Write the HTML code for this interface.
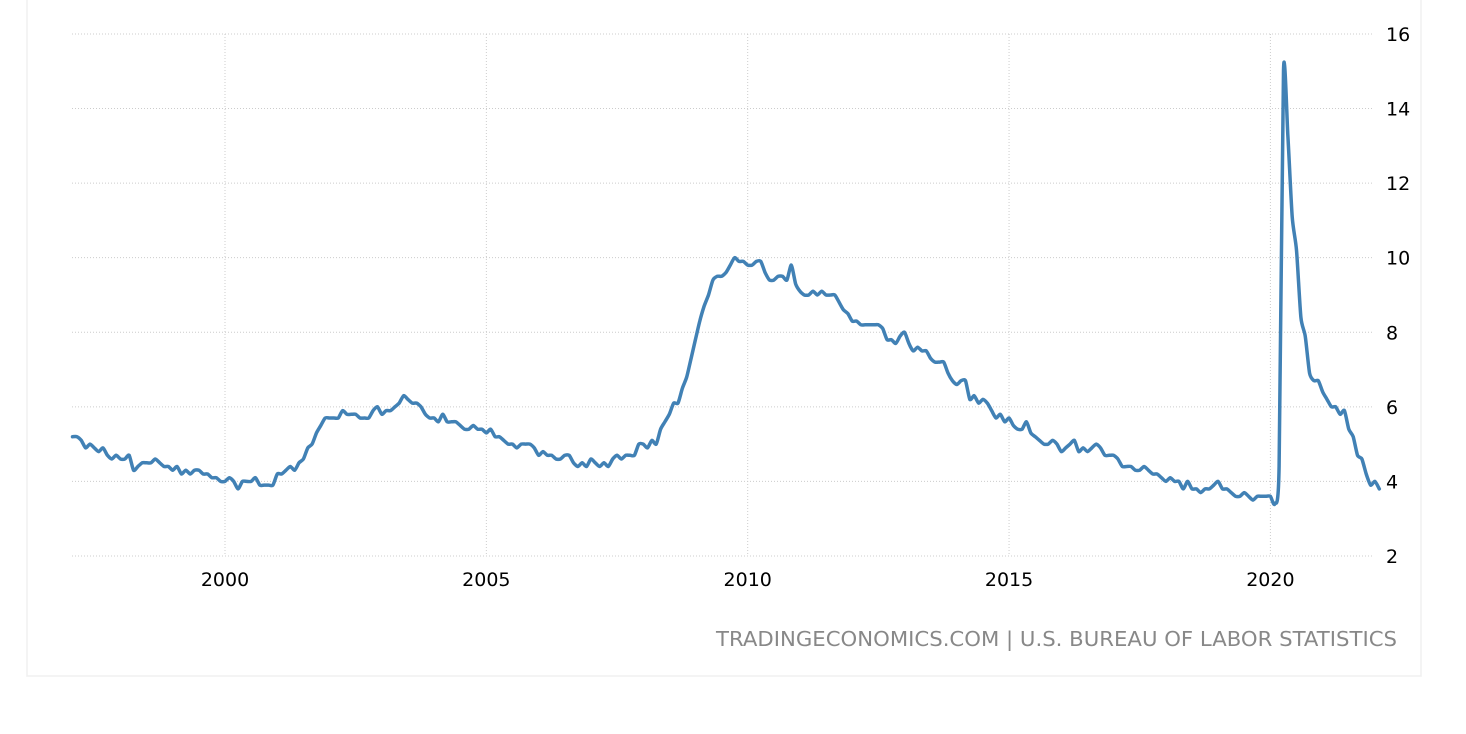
<!DOCTYPE html>
<html><head><meta charset="utf-8"><style>
body{margin:0;background:#fff;width:1466px;height:730px;overflow:hidden;font-family:"DejaVu Sans","Liberation Sans",sans-serif}
</style></head><body>
<svg width="1466" height="730" id="chart">
<path d="M27,0 V676 H1421 V0" fill="none" stroke="#f0f0f0" stroke-width="1.5"/>
<g id="grid"></g><g id="labels"></g>
<path id="line" fill="none" stroke="#4181b5" stroke-width="3.5" stroke-linejoin="round" stroke-linecap="round"/>
<text x="1397" y="646" text-anchor="end" font-size="20" fill="#888" textLength="681" lengthAdjust="spacingAndGlyphs">TRADINGECONOMICS.COM | U.S. BUREAU OF LABOR STATISTICS</text>
</svg>
<script>
const yTicks=[2,4,6,8,10,12,14,16];
const xTicks=[2000,2005,2010,2015,2020];
const startYear=1997;
const values=[
5.2,5.2,5.1,4.9,5.0,4.9,4.8,4.9,4.7,4.6,4.7,
4.6,4.6,4.7,4.3,4.4,4.5,4.5,4.5,4.6,4.5,4.4,4.4,
4.3,4.4,4.2,4.3,4.2,4.3,4.3,4.2,4.2,4.1,4.1,4.0,
4.0,4.1,4.0,3.8,4.0,4.0,4.0,4.1,3.9,3.9,3.9,3.9,
4.2,4.2,4.3,4.4,4.3,4.5,4.6,4.9,5.0,5.3,5.5,5.7,
5.7,5.7,5.7,5.9,5.8,5.8,5.8,5.7,5.7,5.7,5.9,6.0,
5.8,5.9,5.9,6.0,6.1,6.3,6.2,6.1,6.1,6.0,5.8,5.7,
5.7,5.6,5.8,5.6,5.6,5.6,5.5,5.4,5.4,5.5,5.4,5.4,
5.3,5.4,5.2,5.2,5.1,5.0,5.0,4.9,5.0,5.0,5.0,4.9,
4.7,4.8,4.7,4.7,4.6,4.6,4.7,4.7,4.5,4.4,4.5,4.4,
4.6,4.5,4.4,4.5,4.4,4.6,4.7,4.6,4.7,4.7,4.7,5.0,
5.0,4.9,5.1,5.0,5.4,5.6,5.8,6.1,6.1,6.5,6.8,7.3,
7.8,8.3,8.7,9.0,9.4,9.5,9.5,9.6,9.8,10.0,9.9,9.9,
9.8,9.8,9.9,9.9,9.6,9.4,9.4,9.5,9.5,9.4,9.8,9.3,
9.1,9.0,9.0,9.1,9.0,9.1,9.0,9.0,9.0,8.8,8.6,8.5,
8.3,8.3,8.2,8.2,8.2,8.2,8.2,8.1,7.8,7.8,7.7,7.9,
8.0,7.7,7.5,7.6,7.5,7.5,7.3,7.2,7.2,7.2,6.9,6.7,
6.6,6.7,6.7,6.2,6.3,6.1,6.2,6.1,5.9,5.7,5.8,5.6,
5.7,5.5,5.4,5.4,5.6,5.3,5.2,5.1,5.0,5.0,5.1,5.0,
4.8,4.9,5.0,5.1,4.8,4.9,4.8,4.9,5.0,4.9,4.7,4.7,
4.7,4.6,4.4,4.4,4.4,4.3,4.3,4.4,4.3,4.2,4.2,4.1,
4.0,4.1,4.0,4.0,3.8,4.0,3.8,3.8,3.7,3.8,3.8,3.9,
4.0,3.8,3.8,3.7,3.6,3.6,3.7,3.6,3.5,3.6,3.6,3.6,
3.6,3.4,4.4,15.0,13.3,11.1,10.2,8.4,7.9,6.9,6.7,6.7,
6.4,6.2,6.0,6.0,5.8,5.9,5.4,5.2,4.7,4.6,4.2,3.9,
4.0,3.8];
const xs=t=>225+(t-2000)*52.27;
const ys=v=>556-(v-2)*37.29;
const NS='http://www.w3.org/2000/svg';
const grid=document.getElementById('grid'),labels=document.getElementById('labels');
yTicks.forEach(v=>{
 const l=document.createElementNS(NS,'line');
 l.setAttribute('x1',72);l.setAttribute('x2',1372);l.setAttribute('y1',ys(v));l.setAttribute('y2',ys(v));
 l.setAttribute('stroke','#ccc');l.setAttribute('stroke-dasharray','1,2');
 
 
 grid.appendChild(l);
 const t=document.createElementNS(NS,'text');
 t.setAttribute('x',1386);t.setAttribute('y',ys(v)+7);t.setAttribute('font-size','19');t.setAttribute('fill','#000');
 t.textContent=v;
 
 
 labels.appendChild(t);
});
xTicks.forEach(y=>{
 const l=document.createElementNS(NS,'line');
 l.setAttribute('x1',xs(y));l.setAttribute('x2',xs(y));l.setAttribute('y1',34);l.setAttribute('y2',556);
 l.setAttribute('stroke','#ccc');l.setAttribute('stroke-dasharray','1,2');
 
 
 grid.appendChild(l);
 const t=document.createElementNS(NS,'text');
 t.setAttribute('x',xs(y));t.setAttribute('y',586);t.setAttribute('font-size','19');t.setAttribute('text-anchor','middle');
 t.textContent=y;
 
 
 labels.appendChild(t);
});
const pts=values.map((v,i)=>[xs(startYear+(i+1)/12),ys(v)]);
let d='M'+pts[0][0].toFixed(1)+','+pts[0][1].toFixed(1);
for(let i=0;i<pts.length-1;i++){
 const p0=pts[Math.max(0,i-1)],p1=pts[i],p2=pts[i+1],p3=pts[Math.min(pts.length-1,i+2)];
 const k=0.11;
 const c1=[p1[0]+(p2[0]-p0[0])*k,p1[1]+(p2[1]-p0[1])*k];
 const c2=[p2[0]-(p3[0]-p1[0])*k,p2[1]-(p3[1]-p1[1])*k];
 d+='C'+c1[0].toFixed(1)+','+c1[1].toFixed(1)+' '+c2[0].toFixed(1)+','+c2[1].toFixed(1)+' '+p2[0].toFixed(1)+','+p2[1].toFixed(1);
}
document.getElementById('line').setAttribute('d',d);
</script>
</body></html>
